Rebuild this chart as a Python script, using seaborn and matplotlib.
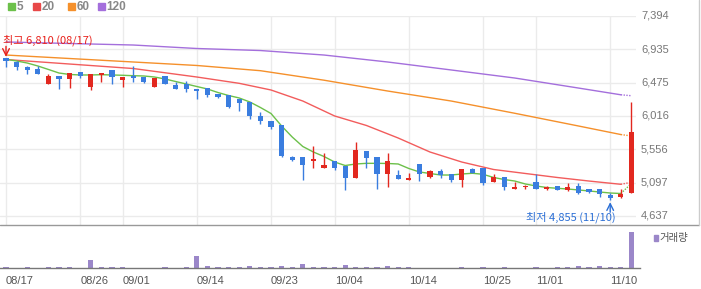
import numpy as np
import pandas as pd
import matplotlib
matplotlib.use("Agg")
import matplotlib.pyplot as plt
from matplotlib.lines import Line2D
from matplotlib.patches import Rectangle
from matplotlib.transforms import blended_transform_factory
import seaborn as sns

# ---------------- data ----------------
dates = ["08/17", "08/18", "08/19", "08/22", "08/23", "08/24", "08/25", "08/26",
         "08/29", "08/30", "08/31", "09/01", "09/02", "09/05", "09/06", "09/07",
         "09/08", "09/13", "09/14", "09/15", "09/16", "09/19", "09/20", "09/21",
         "09/22", "09/23", "09/26", "09/27", "09/28", "09/29", "09/30", "10/04",
         "10/05", "10/06", "10/07", "10/11", "10/12", "10/13", "10/14", "10/17",
         "10/18", "10/19", "10/20", "10/21", "10/24", "10/25", "10/26", "10/27",
         "10/28", "10/31", "11/01", "11/02", "11/03", "11/04", "11/07", "11/08",
         "11/09", "11/10", "11/11", "11/14"]

opens = [6810, 6760, 6690, 6670, 6460, 6570, 6530, 6620, 6420, 6580,
         6650, 6510, 6570, 6550, 6420, 6570, 6440, 6450, 6390, 6400,
         6320, 6300, 6250, 6210, 6020, 5950, 5890, 5450, 5450, 5400,
         5300, 5400, 5330, 5160, 5530, 5450, 5210, 5200, 5140, 5350,
         5180, 5260, 5220, 5140, 5280, 5300, 5100, 5170, 5010, 5030,
         5100, 5010, 5050, 5000, 5050, 5010, 5010, 4930, 4900, 4960]
highs = [6810, 6770, 6700, 6710, 6600, 6570, 6610, 6620, 6600, 6610,
         6650, 6560, 6700, 6550, 6540, 6570, 6480, 6500, 6390, 6400,
         6320, 6300, 6250, 6210, 6070, 5950, 5890, 5460, 5450, 5600,
         5510, 5400, 5330, 5660, 5530, 5450, 5510, 5270, 5230, 5350,
         5270, 5280, 5220, 5280, 5300, 5300, 5220, 5170, 5110, 5060,
         5220, 5050, 5050, 5090, 5090, 5010, 5010, 4950, 5010, 6210]
lows = [6690, 6650, 6590, 6590, 6460, 6390, 6400, 6540, 6370, 6480,
        6460, 6420, 6490, 6470, 6420, 6450, 6390, 6350, 6250, 6280,
        6270, 6120, 6090, 5980, 5900, 5830, 5450, 5390, 5140, 5300,
        5300, 5270, 5000, 5160, 5300, 5010, 5030, 5150, 5140, 5120,
        5160, 5160, 5100, 5040, 5230, 5070, 5100, 5000, 5010, 5010,
        5010, 4990, 4990, 4980, 4940, 4960, 4900, 4855, 4890, 4960]
closes = [6770, 6690, 6650, 6590, 6570, 6530, 6610, 6570, 6600, 6610,
          6560, 6550, 6540, 6480, 6540, 6450, 6390, 6390, 6360, 6310,
          6280, 6140, 6200, 6020, 5940, 5870, 5460, 5410, 5340, 5420,
          5340, 5300, 5160, 5550, 5440, 5210, 5390, 5150, 5160, 5220,
          5260, 5200, 5140, 5280, 5230, 5090, 5170, 5030, 5030, 5050,
          5010, 5040, 4990, 5040, 4960, 4970, 4940, 4890, 4940, 5790]
volumes = [130, 20, 130, 20, 130, 130, 130, 20, 830, 130,
           130, 130, 20, 20, 20, 130, 20, 130, 1230, 230,
           130, 130, 130, 230, 130, 130, 230, 130, 430, 130,
           130, 130, 330, 130, 130, 130, 230, 130, 130, 20,
           20, 20, 20, 130, 20, 130, 20, 130, 20, 20,
           130, 20, 130, 130, 230, 130, 230, 130, 130, 3600]

ma5 = [6797, 6774, 6746, 6705, 6657, 6608, 6588, 6581, 6581, 6585,
       6581, 6577, 6571, 6567, 6553, 6526, 6491, 6457, 6422, 6388,
       6339, 6298, 6264, 6209, 6133, 6050, 5878, 5726, 5595, 5519,
       5457, 5381, 5333, 5354, 5363, 5363, 5361, 5354, 5292, 5244,
       5223, 5202, 5202, 5216, 5226, 5212, 5168, 5140, 5119, 5078,
       5051, 5030, 5019, 5009, 4996, 4982, 4968, 4954, 4947, 5085]
ma20_idx = [0, 6, 12, 18, 22, 25, 28, 31, 34, 37, 40, 43, 46, 49, 52, 55, 58, 59]
ma20 = [6794, 6732, 6670, 6553, 6466, 6374, 6222, 6016, 5885, 5712,
        5519, 5381, 5278, 5223, 5168, 5119, 5074, 5102]
ma60_idx = [0, 6, 12, 18, 24, 30, 36, 42, 48, 54, 58, 59]
ma60 = [6856, 6808, 6760, 6712, 6640, 6509, 6360, 6222, 6053, 5878, 5760, 5740]
ma120_idx = [0, 12, 18, 24, 30, 36, 42, 48, 54, 58, 59]
ma120 = [7036, 6994, 6946, 6918, 6856, 6760, 6650, 6539, 6401, 6308, 6295]

price_ticks = [4637, 5097, 5556, 6016, 6475, 6935, 7394]
tick_labels = ["08/17", "08/26", "09/01", "09/14", "09/23",
               "10/04", "10/14", "10/25", "11/01", "11/10"]

# ---------------- style ----------------
sns.set_theme(style="white")
plt.rcParams["font.family"] = ["Liberation Sans", "DejaVu Sans"]
KFONT = ["Noto Sans CJK KR", "DejaVu Sans"]

RED = "#e2281f"
BLUE = "#3a7ddf"
C_MA5 = "#6cc04a"
C_MA20 = "#f25c5c"
C_MA60 = "#f5902b"
C_MA120 = "#a46fdc"
C_VOL = "#9b87c9"
GRID = "#ebebeb"

W, H = 701, 289
fig = plt.figure(figsize=(W / 100, H / 100), dpi=100)


def box(x0, y0, x1, y1):
    return [x0 / W, 1 - y1 / H, (x1 - x0) / W, (y1 - y0) / H]


PPX = 13.785   # price units per pixel
STEP = 10.6    # pixels per candle

ax = fig.add_axes(box(0, 15.5, 636, 225))
axv = fig.add_axes(box(0, 228, 640, 268))

idx = np.arange(len(dates))
df = pd.DataFrame({"i": idx, "open": opens, "high": highs, "low": lows,
                   "close": closes, "vol": volumes, "ma5": ma5})

# ---------------- price panel ----------------
ax.set_xlim(-6 / STEP, (636 - 6) / STEP)
ax.set_ylim(price_ticks[0] - 9 * PPX, price_ticks[-1] + 0.5 * PPX)
tick_pos = [dates.index(t) for t in tick_labels]
ax.set_xticks(tick_pos)
ax.set_yticks(price_ticks)
ax.set_xticklabels([])
ax.set_yticklabels([])
ax.tick_params(length=0)
ax.grid(True, color=GRID, lw=1)
for s in ax.spines.values():
    s.set_visible(False)

# moving averages (last segment dotted)
def ma_line(xs, ys, color):
    xs = list(xs)
    ys = list(ys)
    sns.lineplot(x=xs[:-1], y=ys[:-1], ax=ax, color=color, lw=1.0,
                 sort=False, estimator=None, legend=False, zorder=2)
    ax.plot(xs[-2:], ys[-2:], color=color, lw=1.0, ls=(0, (1, 1)), zorder=2)

ma_line(ma120_idx, ma120, C_MA120)
ma_line(ma60_idx, ma60, C_MA60)
ma_line(ma20_idx, ma20, C_MA20)
ma_line(idx, ma5, C_MA5)

# candles
for r in df.itertuples():
    col = RED if r.close >= r.open else BLUE
    ax.vlines(r.i, r.low, r.high, color=col, lw=1, zorder=3)
    bot = min(r.open, r.close)
    hgt = max(abs(r.close - r.open), PPX)
    ax.bar(r.i, hgt, bottom=bot, width=0.5, color=col, lw=0, zorder=4)

# right price labels
tr = blended_transform_factory(ax.transAxes, ax.transData)
for p in price_ticks:
    ax.text(641 / 636, p, f"{p:,}", transform=tr, ha="left", va="center",
            fontsize=8, color="#777777", clip_on=False)

# high / low annotations
hi_i = int(np.argmax(highs))
lo_i = int(np.argmin(lows))
ax.annotate("", xy=(hi_i, highs[hi_i] + 1.5 * PPX), xytext=(hi_i, highs[hi_i] + 12 * PPX),
            arrowprops=dict(arrowstyle="->", color="#e8201a", lw=1.0,
                            shrinkA=0, shrinkB=0), zorder=6)
fig.text(3 / W, 1 - 40 / H, f"최고 {highs[hi_i]:,} ({dates[hi_i]})", ha="left",
         va="center", fontsize=8, color="#e8201a", family=KFONT)
ax.annotate("", xy=(lo_i, lows[lo_i] - 2 * PPX), xytext=(lo_i, lows[lo_i] - 12 * PPX),
            arrowprops=dict(arrowstyle="->", color="#2b6fd6", lw=1.0,
                            shrinkA=0, shrinkB=0), zorder=6)
fig.text(616 / W, 1 - 217 / H, f"최저 {lows[lo_i]:,} ({dates[lo_i]})", ha="right",
         va="center", fontsize=8, color="#2b6fd6", family=KFONT)

# ---------------- volume panel ----------------
sns.barplot(data=df, x="i", y="vol", ax=axv, native_scale=True, width=0.5,
            color=C_VOL, saturation=1, linewidth=0, errorbar=None)
axv.set_xlim(-6 / STEP, (640 - 6) / STEP)
axv.set_ylim(0, 4000)
axv.set_xlabel("")
axv.set_ylabel("")
axv.set_yticks([])
axv.set_xticks(tick_pos, labels=tick_labels, ha="left")
axv.tick_params(axis="x", length=4, width=1, color="#999999", pad=2,
                labelsize=8, labelcolor="#555555", direction="out")
for k in ["top", "left", "right"]:
    axv.spines[k].set_visible(False)
axv.spines["bottom"].set_color("#777777")
axv.spines["bottom"].set_linewidth(1)

fig.patches.append(Rectangle((654 / W, 1 - 241 / H), 4 / W, 6.5 / H,
                             transform=fig.transFigure, color=C_VOL))
fig.text(659.5 / W, 1 - 238 / H, "거래량", ha="left", va="center",
         fontsize=7.5, color="#555555", family=KFONT)

# ---------------- frame lines ----------------
fig.add_artist(Line2D([0, 699 / W], [1 - 225 / H] * 2, color="#999999", lw=1))
fig.add_artist(Line2D([698.5 / W] * 2, [1 - 225 / H, 1.0], color="#cccccc", lw=1))

# ---------------- top legend ----------------
leg = [("5", C_MA5, 8, 17), ("20", "#e84848", 33, 42),
       ("60", C_MA60, 68, 77), ("120", C_MA120, 98, 106)]
for lab, col, sx, tx in leg:
    fig.patches.append(Rectangle((sx / W, 1 - 10 / H), 7 / W, 7 / H,
                                 transform=fig.transFigure, color=col))
    fig.text(tx / W, 1 - 6.5 / H, lab, ha="left", va="center", fontsize=8.5,
             fontweight="bold", color="#888888")

fig.savefig("out.png", dpi=100)
